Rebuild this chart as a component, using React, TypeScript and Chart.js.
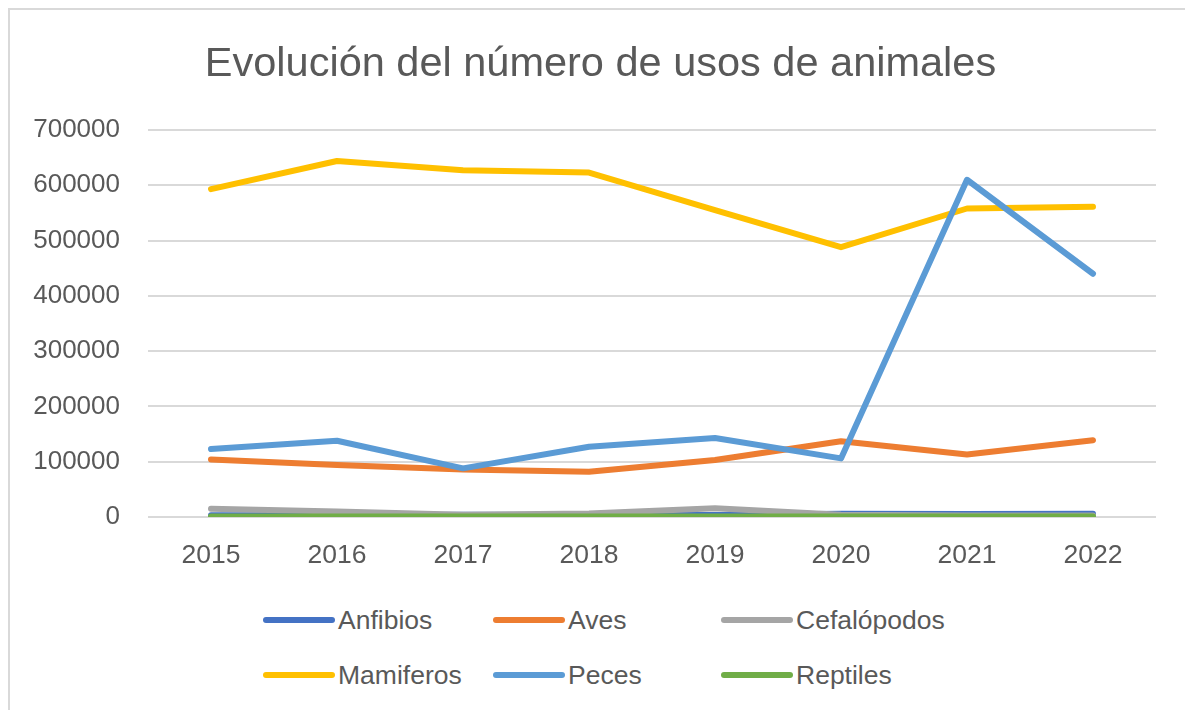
import React, { useEffect, useRef } from 'react';
import { Chart, registerables } from 'chart.js';

Chart.register(...registerables);

const years = ['2015', '2016', '2017', '2018', '2019', '2020', '2021', '2022'];
const anfibios = [3000, 3000, 4000, 3500, 3500, 6000, 5500, 6000];
const aves = [104000, 94000, 86000, 82000, 103000, 137000, 113000, 139000];
const cefalopodos = [15000, 10000, 4000, 6500, 16000, 4000, 2500, 2500];
const mamiferos = [593000, 644000, 627000, 623000, 555000, 488000, 558000, 561000];
const peces = [123000, 138000, 88000, 127000, 143000, 106000, 610000, 440000];
const reptiles = [1000, 1000, 900, 900, 1000, 1000, 900, 1000];

const seriesNames = ['Anfibios', 'Aves', 'Cefalópodos', 'Mamiferos', 'Peces', 'Reptiles'];
const seriesColors = ['#4472C4', '#ED7D31', '#A5A5A5', '#FFC000', '#5B9BD5', '#70AD47'];
const yTicks = [0, 100000, 200000, 300000, 400000, 500000, 600000, 700000];
const titleText = 'Evolución del número de usos de animales';

const FONT = "'Liberation Sans', Arial, sans-serif";
const TEXT = '#595959';

const legendCols = [263, 493, 721];
const legendRows = [620, 675];

export default function App() {
  const ref = useRef<HTMLCanvasElement>(null);

  useEffect(() => {
    const values = [anfibios, aves, cefalopodos, mamiferos, peces, reptiles];
    const chart = new Chart(ref.current as HTMLCanvasElement, {
      type: 'line',
      data: {
        labels: years,
        datasets: seriesNames.map((name, i) => ({
          label: name,
          data: values[i],
          borderColor: seriesColors[i],
          backgroundColor: seriesColors[i],
          borderWidth: 6,
          pointRadius: 0,
          pointHoverRadius: 0,
          tension: 0,
          fill: false,
          order: seriesNames.length - i,
          borderCapStyle: 'round',
          borderJoinStyle: 'round',
        })),
      },
      options: {
        animation: false,
        responsive: false,
        layout: { padding: { top: 130, right: 29, left: 0, bottom: 0 } },
        plugins: {
          legend: { display: false },
          title: { display: false },
          tooltip: { enabled: false },
        },
        scales: {
          x: {
            offset: true,
            grid: { display: false, drawTicks: false },
            border: { display: false },
            ticks: { color: TEXT, font: { family: FONT, size: 26.5 }, padding: 23, maxRotation: 0 },
            afterFit: (s: any) => { s.height = 63; },
          },
          y: {
            min: 0,
            max: 700000,
            afterBuildTicks: (s: any) => { s.ticks = yTicks.map((v) => ({ value: v })); },
            grid: { color: '#D9D9D9', lineWidth: 2, drawTicks: false },
            border: { display: false },
            ticks: {
              color: TEXT,
              font: { family: FONT, size: 26 },
              padding: 28,
              callback: (v: any) => String(v),
            },
            afterFit: (s: any) => { s.width = 148; },
          },
        },
      },
    });
    return () => chart.destroy();
  }, []);

  return (
    <div style={{ position: 'fixed', left: 0, top: 0, width: 1185, height: 710, background: '#fff', overflow: 'hidden' }}>
      <div style={{ position: 'absolute', left: 8, top: 8, width: 2000, height: 2000, borderLeft: '2px solid #D9D9D9', borderTop: '2px solid #D9D9D9' }} />
      <canvas ref={ref} width={1185} height={580} style={{ position: 'absolute', left: 0, top: 0, display: 'block' }} />
      <div style={{ position: 'absolute', left: 8, top: 41, width: 1185, textAlign: 'center', fontFamily: FONT, fontSize: 41.5, lineHeight: '41.5px', color: TEXT, whiteSpace: 'nowrap' }}>
        {titleText}
      </div>
      {seriesNames.map((name, i) => {
        const col = i % 3;
        const row = Math.floor(i / 3);
        return (
          <div key={name} style={{ position: 'absolute', left: legendCols[col], top: legendRows[row] - 20, height: 40, display: 'flex', alignItems: 'center', fontFamily: FONT, fontSize: 26.5, color: TEXT, whiteSpace: 'nowrap' }}>
            <span style={{ display: 'inline-block', width: 72, height: 6, borderRadius: 3, background: seriesColors[i], marginRight: 3 }} />
            <span>{name}</span>
          </div>
        );
      })}
    </div>
  );
}
